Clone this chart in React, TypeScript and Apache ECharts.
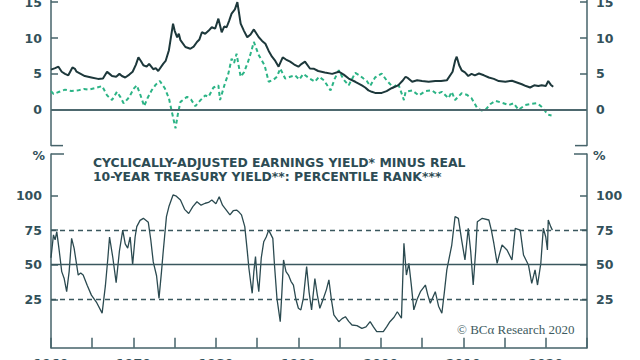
import React, { useEffect, useRef } from "react";
import * as echarts from "echarts";

// Top panel: solid dark line (earnings yield, %)
const earningsYears = [1960.0,1960.5,1960.9,1961.3,1961.7,1962.1,1962.6,1962.9,1963.1,1963.6,1964.1,1964.9,1965.7,1966.3,1966.8,1967.1,1967.4,1967.9,1968.3,1968.6,1969.0,1969.5,1969.9,1970.3,1970.6,1970.9,1971.2,1971.6,1971.9,1972.4,1972.7,1973.0,1973.6,1973.9,1974.3,1974.6,1974.8,1975.0,1975.3,1975.5,1975.7,1976.3,1976.9,1977.3,1977.7,1978.0,1978.3,1978.7,1979.1,1979.5,1979.9,1980.3,1980.7,1981.0,1981.3,1981.6,1981.9,1982.3,1982.6,1983.0,1983.4,1983.8,1984.2,1984.6,1985.2,1985.6,1986.0,1986.4,1986.8,1987.2,1987.6,1988.1,1988.5,1989.0,1989.5,1990.0,1990.4,1990.8,1991.4,1991.9,1992.4,1993.2,1994.1,1994.9,1995.5,1996.1,1996.9,1997.7,1998.1,1998.5,1998.9,1999.3,2000.1,2000.7,2001.3,2002.1,2002.6,2003.0,2003.3,2003.8,2004.4,2005.0,2005.8,2006.6,2007.3,2008.0,2008.7,2009.0,2009.2,2009.5,2009.8,2010.2,2010.6,2011.0,2011.4,2011.9,2012.5,2013.1,2013.7,2014.3,2015.1,2015.9,2016.5,2017.1,2017.6,2018.1,2018.6,2019.1,2019.5,2020.0,2020.3,2020.6,2020.9];
const earningsValues = [5.6,5.8,6.0,5.3,5.0,4.8,5.9,5.7,5.3,5.0,4.7,4.5,4.3,4.35,5.3,5.0,4.7,4.6,5.0,4.7,4.5,4.9,5.3,6.3,7.3,6.8,6.2,6.0,6.4,5.65,5.8,5.4,6.4,6.8,8.3,10.5,12.0,11.0,10.1,10.6,9.7,8.75,8.5,8.8,9.45,9.8,10.8,10.6,11.0,11.5,11.3,12.7,10.8,11.6,11.5,12.4,13.4,14.0,15.0,12.0,11.0,10.1,10.5,11.2,10.1,9.6,9.2,8.2,7.4,6.8,6.0,7.3,7.0,6.7,6.3,6.0,6.4,6.7,5.75,5.7,5.4,5.2,5.0,5.3,4.9,4.35,3.9,3.4,3.1,2.7,2.5,2.35,2.35,2.6,3.0,3.4,4.0,4.6,4.4,3.9,4.1,4.0,3.9,4.0,4.0,4.1,5.3,6.8,7.4,6.2,5.5,5.2,4.7,5.0,4.8,5.05,4.8,4.5,4.3,4.0,3.9,4.05,3.8,3.55,3.3,3.1,3.4,3.3,3.4,3.3,4.0,3.5,3.2];

// Top panel: green dashed line (real 10-year Treasury yield, %)
const realYieldYears = [1960.0,1960.3,1961.0,1961.7,1962.5,1963.3,1964.0,1964.5,1965.3,1966.2,1966.8,1967.4,1968.0,1968.4,1968.8,1969.3,1969.6,1970.0,1970.4,1970.8,1971.3,1971.7,1972.2,1972.7,1973.2,1973.8,1974.3,1974.6,1975.1,1975.4,1975.7,1976.5,1977.0,1977.5,1978.1,1978.7,1979.1,1979.7,1980.3,1980.5,1981.1,1981.5,1981.9,1982.2,1982.5,1983.0,1983.4,1983.9,1984.2,1984.6,1985.2,1985.9,1986.4,1987.0,1987.4,1987.8,1988.4,1989.0,1989.6,1990.1,1990.6,1991.3,1992.0,1992.5,1993.1,1993.9,1994.4,1994.9,1995.5,1996.1,1996.9,1997.4,1997.9,1998.3,1998.7,1999.3,2000.1,2000.7,2001.5,2002.1,2002.8,2003.0,2003.8,2004.6,2005.4,2006.2,2006.8,2007.4,2008.2,2008.6,2009.0,2009.8,2010.4,2011.0,2011.7,2012.2,2012.7,2013.3,2013.9,2014.6,2015.5,2016.1,2016.7,2017.5,2018.2,2018.9,2019.3,2019.7,2020.0,2020.3,2020.7];
const realYieldValues = [2.6,2.2,2.5,2.8,2.6,2.7,2.9,2.8,3.0,3.3,2.0,1.35,2.5,1.8,0.9,1.5,2.0,2.9,3.4,2.2,0.5,1.6,2.7,3.5,4.0,3.0,1.6,0.0,-2.6,-0.5,1.1,1.8,1.4,0.5,1.3,2.0,1.8,3.1,3.4,1.35,3.7,5.0,7.1,6.5,7.8,4.6,5.2,6.7,7.8,9.45,7.6,6.2,3.9,4.2,4.6,5.75,4.35,4.6,4.8,4.2,5.0,4.4,3.9,4.6,4.1,2.7,4.3,5.5,4.2,3.4,5.15,4.8,4.35,4.0,3.3,4.5,5.05,4.1,3.1,3.65,1.35,2.5,2.7,2.0,2.6,2.7,2.2,2.5,1.6,2.5,1.35,2.3,2.1,1.6,0.2,-0.1,0.0,0.8,1.25,1.0,0.65,0.9,0.0,0.65,0.8,0.9,0.6,0.2,-0.3,-0.7,-0.8];

// Bottom panel: percentile rank (%)
const rankYears = [1960.0,1960.3,1960.5,1960.7,1961.0,1961.3,1961.6,1961.9,1962.2,1962.5,1962.8,1963.3,1963.6,1963.9,1964.4,1964.9,1965.5,1966.2,1966.6,1966.9,1967.1,1967.5,1967.9,1968.3,1968.7,1969.0,1969.3,1969.6,1969.9,1970.2,1970.4,1970.8,1971.2,1971.8,1972.1,1972.4,1972.8,1973.1,1973.4,1973.6,1974.0,1974.3,1974.8,1975.2,1975.7,1976.2,1976.7,1977.2,1977.7,1978.2,1978.7,1979.1,1979.5,1980.0,1980.4,1980.8,1981.1,1981.7,1982.1,1982.5,1982.8,1983.1,1983.5,1983.8,1984.0,1984.2,1984.4,1984.6,1984.8,1985.0,1985.2,1985.5,1985.8,1986.1,1986.4,1986.9,1987.1,1987.4,1987.8,1988.0,1988.2,1988.5,1988.8,1989.1,1989.4,1989.7,1990.0,1990.3,1990.6,1991.0,1991.3,1991.6,1992.0,1992.3,1992.6,1993.0,1993.4,1993.7,1994.0,1994.3,1994.9,1995.3,1995.7,1996.1,1996.5,1997.1,1997.7,1998.2,1998.7,1999.1,1999.5,2000.3,2000.7,2001.1,2001.6,2002.0,2002.5,2002.8,2003.1,2003.4,2003.7,2004.0,2004.4,2004.8,2005.4,2005.7,2006.0,2006.6,2007.0,2007.4,2007.7,2008.0,2008.6,2009.0,2009.4,2009.8,2010.2,2010.6,2010.9,2011.2,2011.5,2011.7,2012.3,2013.1,2013.4,2013.7,2014.1,2014.4,2014.7,2015.3,2015.9,2016.3,2016.9,2017.3,2017.9,2018.3,2018.7,2019.0,2019.4,2019.7,2020.0,2020.2,2020.3,2020.6,2020.8];
const rankValues = [55,71.5,68,73.9,60,45,40,30.5,45,69,62,42.5,44,42.5,35,28,23,15,35,55,70,55,37,60,75,65,62,70,50,70,77.5,82,83.5,80.6,68,52,42,25.7,45,59,84.7,92,100.4,99.5,96.7,90,87,92,95.5,93,94.4,95,96.7,94,99.1,93,90.7,86,89,89.5,88,86,77.5,60,47.4,38,29.3,45,55.8,40,30.5,55,66.6,70,75,69,50,25.7,8.8,30,53.4,45,42.5,38,35.3,25,18.5,17.3,25.7,48.6,30,17.3,40,28,18.5,25,32,39,25,13.7,8.8,11,12.4,9,6.4,6,4,5,8.8,5,1.6,1.6,5,8.8,12,16,11.3,65.5,42.5,51,35,17.3,25,30.5,35.3,28,22.1,30.5,20,14.9,30,46.2,64.2,84.7,83.5,67.8,53.4,76.3,59.4,35.3,60,81,83.5,82.3,75,65.5,51,58,64.2,60.6,53.4,76.3,75,57,49.8,36.5,46.2,35.3,51,76.3,70,60.6,82.3,77.5,75];

const topTicks = [0, 5, 10, 15];
const bottomTicks = [25, 50, 75, 100];

const AX = "#46636a";
const TXT = "#33515a";
const LABEL_FONT = { fontFamily: "DejaVu Sans", fontWeight: "bold" as const, fontSize: 12.5, color: TXT };

const zip = (xs: number[], ys: number[]) => xs.map((x, i) => [x, ys[i]]);

export default function App() {
  const ref = useRef<HTMLDivElement>(null);
  useEffect(() => {
    if (!ref.current) return;
    const chart = echarts.init(ref.current, null, { renderer: "svg" });
    const yAxisBase = (grid: number, pos: "left" | "right", min: number, max: number, ticks: number[]) => ({
      type: "value",
      gridIndex: grid,
      position: pos,
      min,
      max,
      splitLine: { show: false },
      axisLine: { show: true, lineStyle: { color: AX, width: 1.5 } },
      axisTick: { show: true, inside: true, length: 7, customValues: ticks, lineStyle: { color: AX, width: 1.5 } },
      axisLabel: { ...LABEL_FONT, margin: 9, customValues: ticks },
    });
    chart.setOption({
      animation: false,
      backgroundColor: "#ffffff",
      grid: [
        { left: 51, right: 53, top: 0, height: 145.6, containLabel: false, outerBoundsMode: "none" },
        { left: 51, right: 53, top: 154, height: 193.7, containLabel: false, outerBoundsMode: "none" },
      ],
      xAxis: [
        { type: "value", gridIndex: 0, min: 1960, max: 2025, show: false },
        {
          type: "value",
          gridIndex: 1,
          min: 1960,
          max: 2025,
          interval: 5,
          splitLine: { show: false },
          axisLine: { onZero: false, lineStyle: { color: AX, width: 1.5 } },
          axisTick: { inside: true, length: 10, lineStyle: { color: AX, width: 1.5 } },
          axisLabel: { ...LABEL_FONT, margin: 9, formatter: (v: number) => (v % 10 === 0 && v < 2025 ? String(v) : "") },
        },
      ],
      yAxis: [
        yAxisBase(0, "left", -5, 15.3, topTicks),
        yAxisBase(0, "right", -5, 15.3, topTicks),
        yAxisBase(1, "left", -10, 130, bottomTicks),
        yAxisBase(1, "right", -10, 130, bottomTicks),
      ],
      series: [
        {
          type: "line",
          xAxisIndex: 0,
          yAxisIndex: 0,
          data: zip(realYieldYears, realYieldValues),
          showSymbol: false,
          lineStyle: { color: "#2cb486", width: 2, type: [4, 3] },
          markLine: {
            silent: true,
            symbol: "none",
            label: { show: false },
            data: [{ yAxis: 0 }],
            lineStyle: { color: "#4d686e", width: 2, type: "solid" },
          },
        },
        {
          type: "line",
          xAxisIndex: 0,
          yAxisIndex: 0,
          data: zip(earningsYears, earningsValues),
          showSymbol: false,
          lineStyle: { color: "#1d383b", width: 2 },
        },
        {
          type: "line",
          xAxisIndex: 1,
          yAxisIndex: 2,
          data: zip(rankYears, rankValues),
          showSymbol: false,
          lineStyle: { color: "#2b4a50", width: 1.3 },
          markLine: {
            silent: true,
            symbol: "none",
            label: { show: false },
            data: [
              { yAxis: 25, lineStyle: { type: [5, 4] } },
              { yAxis: 50, lineStyle: { type: "solid" } },
              { yAxis: 75, lineStyle: { type: [5, 4] } },
            ],
            lineStyle: { color: "#3a575e", width: 1.3 },
          },
        },
      ],
      graphic: [
        { type: "line", shape: { x1: 51, y1: 145.6, x2: 63, y2: 145.6 }, style: { stroke: AX, lineWidth: 1.5 } },
        { type: "line", shape: { x1: 575, y1: 145.6, x2: 587, y2: 145.6 }, style: { stroke: AX, lineWidth: 1.5 } },
        { type: "line", shape: { x1: 51, y1: 154, x2: 64, y2: 154 }, style: { stroke: AX, lineWidth: 1.5 } },
        { type: "line", shape: { x1: 574, y1: 154, x2: 587, y2: 154 }, style: { stroke: AX, lineWidth: 1.5 } },
        { type: "text", style: { x: 45, y: 155.5, text: "%", align: "right", verticalAlign: "middle", font: 'bold 12.5px "DejaVu Sans"', fill: TXT } },
        { type: "text", style: { x: 593, y: 155.5, text: "%", align: "left", verticalAlign: "middle", font: 'bold 12.5px "DejaVu Sans"', fill: TXT } },
        {
          type: "text",
          style: {
            x: 93,
            y: 155,
            text: "CYCLICALLY-ADJUSTED EARNINGS YIELD* MINUS REAL\n10-YEAR TREASURY YIELD**: PERCENTILE RANK***",
            align: "left",
            verticalAlign: "top",
            font: 'bold 12.4px "DejaVu Sans"',
            lineHeight: 14.5,
            fill: "#2d4c54",
          },
        },
        {
          type: "text",
          style: { x: 457, y: 329, text: "© BCα Research 2020", align: "left", verticalAlign: "middle", font: '13px "Liberation Serif"', fill: "#3d5a60" },
        },
      ],
    });
    return () => chart.dispose();
  }, []);
  return <div ref={ref} style={{ position: "fixed", left: 0, top: 0, width: 640, height: 360 }} />;
}
